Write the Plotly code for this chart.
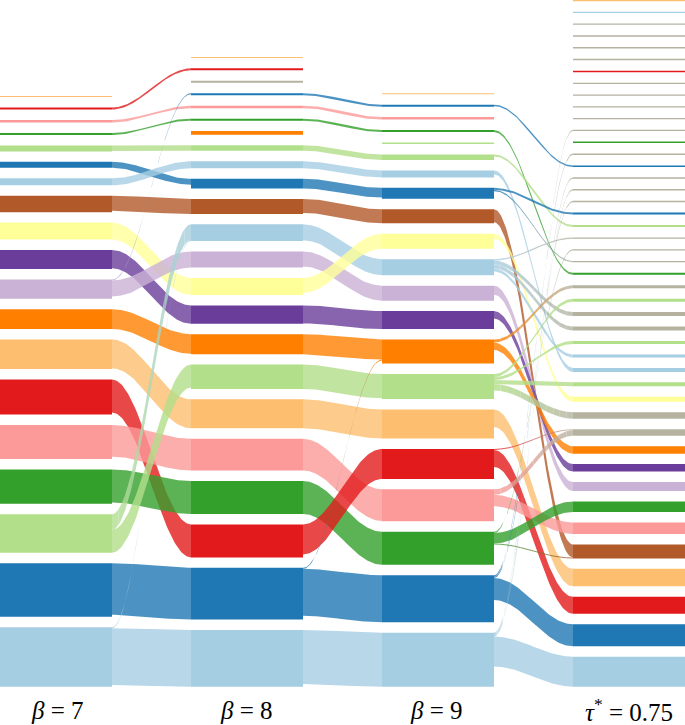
import numpy as np
import plotly.graph_objects as go

# ---------------- data ----------------
PALETTE = {"LB": "#a6cee3", "B": "#1f78b4", "LG": "#b2df8a", "G": "#33a02c",
           "P": "#fb9a99", "R": "#e31a1c", "LO": "#fdbf6f", "O": "#ff7f00",
           "LV": "#cab2d6", "PU": "#6a3d9a", "Y": "#ffff99", "BR": "#b15928",
           "GR": "#b5b3a0"}

labels = ["<i>β</i> = 7", "<i>β</i> = 8", "<i>β</i> = 9", "<i>τ</i><sup>*</sup> = 0.75"]

# column nodes, listed top -> bottom
c1_colors = ["LO", "R", "P", "G", "LG", "B", "LB", "BR", "Y", "PU", "LV", "O", "LO", "R", "P", "G", "LG", "B", "LB"]
c1_sizes = [1, 2, 2.5, 2, 6, 6, 7, 16.4, 17, 19, 19.3, 19.7, 29.7, 35, 34, 34.3, 38.5, 53.7, 59.4]

c2_colors = ["LO", "R", "GR", "B", "P", "G", "O", "LG", "LB", "B", "BR", "LB", "LV", "Y", "PU", "O", "LG", "LO", "P", "G", "R", "B", "LB"]
c2_sizes = [1, 2, 2, 2, 2.5, 2, 3.6, 5.7, 7, 9.7, 15, 16.7, 16, 17, 18.3, 20, 24.3, 29, 31.7, 33, 33, 51.7, 56.7]

c3_colors = ["LO", "B", "P", "G", "LG", "LG", "LB", "B", "BR", "Y", "LB", "LV", "PU", "O", "LG", "LO", "R", "P", "G", "B", "LB"]
c3_sizes = [1, 2, 2.5, 2, 1.5, 5.5, 7, 11, 14, 15, 16, 15, 18, 24, 25, 29, 30, 32, 33, 47, 54]

c4_colors = ["LO", "LB", "GR", "GR", "GR", "GR", "R", "GR", "GR", "GR", "GR", "GR", "G", "GR", "B",
             "GR", "GR", "GR", "B", "LG", "GR", "GR", "GR", "G", "GR", "LG", "GR", "GR", "LG", "LB",
             "LB", "LG", "Y", "GR", "GR", "O", "PU", "LV", "G", "P", "BR", "LO", "R", "B", "LB"]
c4_sizes = [1.3, 1.3, 1.3, 1.5, 1.3, 1.5, 1.5, 1.3, 1.3, 1.3, 1.3, 1.3, 1.5, 1.5, 1.5,
            1.3, 1.3, 1.3, 2, 2, 1.3, 1.3, 1.3, 2, 3, 3, 4, 4, 3, 3,
            4, 4, 5, 6.5, 6.5, 7.5, 7.5, 9, 10.5, 11.5, 14, 17.5, 17, 22, 30]

# flows (source index, target index, value)
flows_12 = [(1, 1, 2), (2, 4, 2.5), (3, 5, 2), (4, 7, 5.7), (5, 9, 6), (6, 8, 7),
            (7, 10, 15), (8, 13, 17), (9, 14, 18.3), (10, 3, 1), (10, 12, 16),
            (11, 15, 19.7), (12, 17, 29), (13, 20, 33), (14, 18, 31.7), (15, 19, 33),
            (16, 11, 15.5), (16, 16, 23), (17, 21, 51.7), (18, 11, 1), (18, 22, 56.7)]

flows_23 = [(3, 1, 2), (4, 2, 2.5), (5, 3, 2), (7, 5, 5.5), (8, 6, 7), (9, 7, 9.7),
            (10, 8, 14), (11, 10, 16), (12, 11, 15), (13, 9, 15), (14, 12, 18),
            (15, 13, 20), (16, 14, 24.3), (17, 15, 29), (18, 17, 31.7), (19, 18, 33),
            (20, 16, 30), (21, 13, 1), (21, 19, 47), (22, 20, 54)]

flows_34 = [(1, 14, 1.5), (3, 23, 2), (5, 19, 2), (6, 30, 4), (7, 18, 2), (7, 22, 1.3),
            (8, 40, 13), (9, 32, 5), (10, 20, 1.3), (10, 26, 4), (10, 27, 4), (10, 29, 3),
            (11, 37, 9), (12, 36, 7.5), (13, 24, 3), (13, 35, 7.5), (14, 25, 3), (14, 28, 3),
            (14, 31, 4), (14, 33, 6.5), (15, 41, 17.5), (16, 34, 1), (16, 42, 17),
            (17, 34, 5.5), (17, 39, 11.5), (18, 21, 1.3), (18, 38, 10.5), (18, 40, 1),
            (19, 13, 1.5), (19, 17, 1.3), (19, 43, 22), (20, 11, 1.3), (20, 15, 1.3),
            (20, 16, 1.3), (20, 44, 30)]

# ---------------- layout parameters ----------------
col_x = [0, 191, 382, 573]
node_w = 112
gap = 10.45
bottom = 686.7
link_alpha = 0.8

columns = [(c1_colors, c1_sizes), (c2_colors, c2_sizes), (c3_colors, c3_sizes), (c4_colors, c4_sizes)]
all_flows = [flows_12, flows_23, flows_34]


def stack(sizes):
    tops = [0.0] * len(sizes)
    y = bottom
    for i in reversed(range(len(sizes))):
        tops[i] = y - sizes[i]
        y = tops[i] - gap
    return tops


tops = [stack(s) for _, s in columns]


def hex2rgb(h):
    h = h.lstrip("#")
    return np.array([int(h[i:i + 2], 16) for i in (0, 2, 4)], dtype=float)


def ease(t):
    return (1 - np.cos(np.pi * t)) / 2


fig = go.Figure()

# links
for c, flows in enumerate(all_flows):
    src_tops, tgt_tops = tops[c], tops[c + 1]
    src_cols, tgt_cols = columns[c][0], columns[c + 1][0]
    src_off = {}
    tgt_off = {}
    by_src = {}
    for k, (s, t, v) in enumerate(flows):
        by_src.setdefault(s, []).append(k)
    for s, ks in by_src.items():
        y = src_tops[s]
        for k in sorted(ks, key=lambda k: tgt_tops[flows[k][1]]):
            src_off[k] = y
            y += flows[k][2]
    by_tgt = {}
    for k, (s, t, v) in enumerate(flows):
        by_tgt.setdefault(t, []).append(k)
    for t, ks in by_tgt.items():
        y = tgt_tops[t]
        for k in sorted(ks, key=lambda k: src_tops[flows[k][0]]):
            tgt_off[k] = y
            y += flows[k][2]

    x0 = col_x[c] + node_w
    x1 = col_x[c + 1]
    for k, (s, t, v) in enumerate(flows):
        y0, y1 = src_off[k], tgt_off[k]
        ca = hex2rgb(PALETTE[src_cols[s]])
        cb = hex2rgb(PALETTE[tgt_cols[t]])
        nseg = 1 if src_cols[s] == tgt_cols[t] else 12
        edges = np.linspace(0, 1, nseg + 1)
        for j in range(nseg):
            tt = np.linspace(edges[j], edges[j + 1], 60 // nseg + 2)
            xs = x0 + (x1 - x0) * tt
            ytop = y0 + (y1 - y0) * ease(tt)
            ybot = ytop + v
            col = ca + (cb - ca) * ((edges[j] + edges[j + 1]) / 2)
            rgba = "rgba(%d,%d,%d,%.2f)" % (col[0], col[1], col[2], link_alpha)
            fig.add_trace(go.Scatter(
                x=np.concatenate([xs, xs[::-1]]),
                y=np.concatenate([ytop, ybot[::-1]]),
                mode="lines", fill="toself", fillcolor=rgba,
                line=dict(width=0), hoverinfo="skip", showlegend=False))

# nodes (grouped by colour)
groups = {}
for c, (cols, sizes) in enumerate(columns):
    for i, (cn, sz) in enumerate(zip(cols, sizes)):
        xa, xb = col_x[c], col_x[c] + node_w
        ya, yb = tops[c][i], tops[c][i] + sz
        gx, gy = groups.setdefault(cn, ([], []))
        gx += [xa, xb, xb, xa, xa, None]
        gy += [ya, ya, yb, yb, ya, None]
for cn, (gx, gy) in groups.items():
    fig.add_trace(go.Scatter(x=gx, y=gy, mode="lines", fill="toself",
                             fillcolor=PALETTE[cn], line=dict(width=0),
                             hoverinfo="skip", showlegend=False))

label_x = [57, 246, 436, 629]
for c, lab in enumerate(labels):
    fig.add_annotation(x=label_x[c], y=710, text=lab, showarrow=False,
                       font=dict(family="Liberation Serif", size=25, color="black"),
                       xanchor="center", yanchor="middle")

fig.update_layout(width=685, height=725, margin=dict(l=0, r=0, t=0, b=0),
                  paper_bgcolor="white", plot_bgcolor="white", showlegend=False,
                  xaxis=dict(range=[0, 685], visible=False, fixedrange=True),
                  yaxis=dict(range=[725, 0], visible=False, fixedrange=True))

fig.write_html("out.html", config={"displayModeBar": False})
with open("out.html", encoding="utf-8") as f:
    html = f.read()
html = html.replace("<head>", "<head><style>html,body{margin:0;padding:0;overflow:hidden;}</style>", 1)
with open("out.html", "w", encoding="utf-8") as f:
    f.write(html)
